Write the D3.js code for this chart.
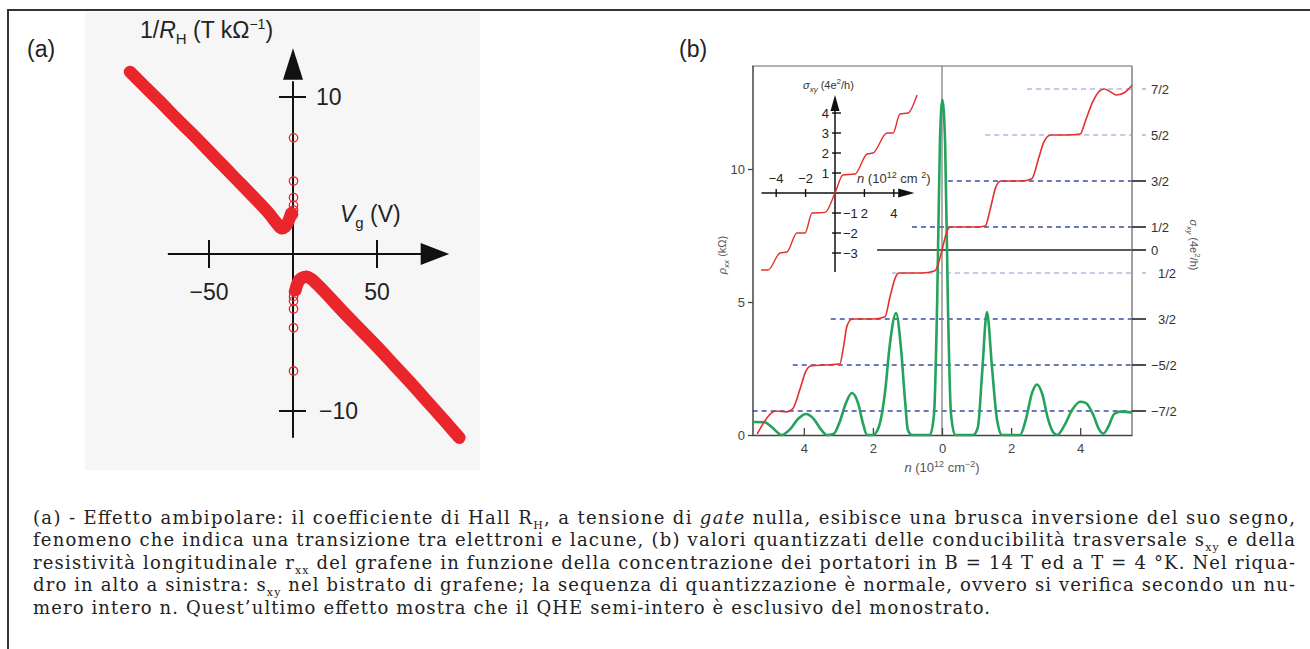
<!DOCTYPE html>
<html>
<head>
<meta charset="utf-8">
<script src="https://cdn.jsdelivr.net/npm/d3@7"></script>
<style>
body{margin:0;background:#fff;}
svg{display:block;}
</style>
</head>
<body>
<div id="fig"></div>
<script>
// ---- panel (a) data: 1/RH vs gate voltage ----
var aLeftV=[-97,-90,-80,-70,-60,-50,-40,-30,-20,-14,-10,-7,-4.5,-2.5,-1];
var aLeftR=[11.6,10.85,9.8,8.7,7.65,6.55,5.45,4.35,3.25,2.55,2.0,1.65,1.75,2.15,2.6];
var aRightV=[1.5,3,5,8,11,15,20,30,40,50,60,70,80,90,99];
var aRightR=[-2.3,-1.8,-1.55,-1.45,-1.6,-2.0,-2.55,-3.7,-4.8,-5.9,-7.05,-8.2,-9.4,-10.6,-11.7];
var aOpenR=[7.4,4.65,3.6,3.1,2.8,2.5,-2.4,-2.7,-3.0,-3.5,-4.7,-7.45];
var aXTicks=[-50,50];
var aYTicks=[10,-10];

// ---- panel (b) data ----
// rho_xx (kOhm) vs n
var rhoN=[-5.48,-5.13,-4.93,-4.64,-4.41,-4.17,-3.94,-3.71,-3.5,-3.33,-3.13,-2.96,-2.78,-2.61,-2.43,-2.29,-2.17,-2.0,-1.83,-1.65,-1.51,-1.33,-1.19,-1.07,-0.99,-0.87,-0.35,-0.23,-0.14,-0.06,0.01,0.09,0.17,0.26,0.38,0.9,1.04,1.16,1.3,1.45,1.59,1.74,2.26,2.43,2.61,2.75,2.9,3.07,3.22,3.33,3.54,3.77,4.0,4.17,4.38,4.55,4.67,4.81,4.99,5.16,5.5];
var rhoV=[0.49,0.48,0.3,0.0,0.2,0.6,0.79,0.6,0.2,0.0,0.05,0.5,1.2,1.58,1.2,0.45,0.0,0.0,0.3,1.6,3.4,4.58,3.3,1.3,0.2,0.0,0.0,0.8,5,11,12.6,11,5,0.8,0.0,0.0,0.3,2.3,4.62,2.5,0.6,0.0,0.0,0.6,1.6,1.9,1.55,0.6,0.1,0.0,0.35,0.95,1.25,1.2,0.75,0.2,0.05,0.3,0.8,0.88,0.85];
// sigma_xy (4e^2/h) vs n, monolayer
var sigN=[-5.35,-5.2,-4.95,-4.8,-4.5,-4.32,-4.1,-3.95,-3.8,-3.4,-2.96,-2.85,-2.75,-2.6,-2.0,-1.65,-1.5,-1.35,-1.25,-0.6,-0.2,-0.05,0.05,0.15,0.25,1.0,1.25,1.4,1.55,1.7,2.3,2.6,2.8,2.95,3.15,3.6,4.0,4.15,4.35,4.55,4.7,4.85,5.05,5.3,5.5];
var sigV=[-4.0,-3.8,-3.55,-3.5,-3.52,-3.45,-3.0,-2.65,-2.52,-2.5,-2.48,-2.1,-1.65,-1.5,-1.5,-1.45,-1.0,-0.6,-0.5,-0.5,-0.45,-0.15,0.15,0.42,0.5,0.5,0.52,0.9,1.35,1.5,1.5,1.55,2.0,2.35,2.5,2.5,2.52,2.8,3.2,3.45,3.5,3.45,3.37,3.43,3.58];
// inset: bilayer sigma_xy vs n
var insN=[-5.03,-4.56,-3.74,-3.27,-2.59,-2.04,-1.56,-0.68,0,0.54,1.36,2.18,2.59,3.54,3.95,4.42,4.97,5.58];
var insV=[-3.85,-3.85,-3.0,-2.95,-2.0,-2.0,-1.0,-0.97,0,0.9,0.95,1.95,2.0,3.0,3.0,3.95,4.0,4.9];

var bXTicks=[-4,-2,0,2,4];
var bRhoTicks=[0,5,10];
var bSigLevels=[3.5,2.5,1.5,0.5,0,-0.5,-1.5,-2.5,-3.5];
var bSigLabels=["7/2","5/2","3/2","1/2","0","1/2","3/2","\u22125/2","\u22127/2"];
var bLevelStart=[2.46,1.25,0.17,-0.87,-1.88,-1.45,-3.22,-4.32,-5.48];
var bLevelFaint=[true,true,false,false,false,true,false,false,false];
var insXTicks=[-4,-2,2,4];
var insYTicks=[4,3,2,1,-1,-2,-3];

var W=1310,H=649;
var svg=d3.select("#fig").append("svg").attr("width",W).attr("height",H);

//Outer frame
svg.append("path")
   .attr("d","M8,649 L8,10 L1310,10")
   .attr("fill","none").attr("stroke","#333").attr("stroke-width",2);

// ================= PANEL (a) =================
svg.append("rect").attr("x",85).attr("y",12).attr("width",395).attr("height",458).attr("fill","#f6f6f6");

var aX=d3.scaleLinear().domain([-50,50]).range([209,377]);
var aY=d3.scaleLinear().domain([-10,10]).range([411,97]);
var ga=svg.append("g").attr("font-family","'Liberation Sans',Arial,sans-serif").attr("fill","#222");

var x0=aX(0),y0=aY(0);
//axes
ga.append("line").attr("x1",aX(-74.5)).attr("x2",aX(78)).attr("y1",y0).attr("y2",y0).attr("stroke","#111").attr("stroke-width",2);
ga.append("line").attr("x1",x0).attr("x2",x0).attr("y1",aY(-11.7)).attr("y2",aY(11)).attr("stroke","#111").attr("stroke-width",2);
ga.append("path").attr("d","M"+aX(93)+","+y0+" L"+aX(76)+","+(y0-11)+" L"+aX(76)+","+(y0+11)+" Z").attr("fill","#111");
ga.append("path").attr("d","M"+x0+","+aY(13.1)+" L"+(x0-10)+","+aY(11.1)+" L"+(x0+10)+","+aY(11.1)+" Z").attr("fill","#111");

ga.selectAll(".xt").data(aXTicks).enter().append("line")
  .attr("x1",d=>aX(d)).attr("x2",d=>aX(d)).attr("y1",y0-14).attr("y2",y0+14)
  .attr("stroke","#111").attr("stroke-width",2);
ga.selectAll(".xtl").data(aXTicks).enter().append("text")
  .attr("x",d=>aX(d)).attr("y",y0+46).attr("text-anchor","middle").attr("font-size",23)
  .text(d=>d<0?"\u2212"+Math.abs(d):d);
ga.selectAll(".yt").data(aYTicks).enter().append("line")
  .attr("x1",x0-14).attr("x2",x0+13).attr("y1",d=>aY(d)).attr("y2",d=>aY(d))
  .attr("stroke","#111").attr("stroke-width",2);
ga.selectAll(".ytl").data(aYTicks).enter().append("text")
  .attr("x",d=>d<0?x0+26:x0+23).attr("y",d=>aY(d)+8).attr("font-size",23)
  .text(d=>d<0?"\u2212"+Math.abs(d):d);

//axis labels
var lab=ga.append("text").attr("x",140).attr("y",38).attr("font-size",23);
lab.append("tspan").text("1/");
lab.append("tspan").attr("font-style","italic").text("R");
lab.append("tspan").attr("font-size",15).attr("dy",6).text("H");
lab.append("tspan").attr("dy",-6).text(" (T k\u03A9");
lab.append("tspan").attr("font-size",14).attr("dy",-9).text("\u22121");
lab.append("tspan").attr("dy",9).text(")");
var lab2=ga.append("text").attr("x",340).attr("y",222).attr("font-size",23);
lab2.append("tspan").attr("font-style","italic").text("V");
lab2.append("tspan").attr("font-size",15).attr("dy",6).text("g");
lab2.append("tspan").attr("dy",-6).text(" (V)");
svg.append("text").attr("x",27).attr("y",57).attr("font-size",23)
   .attr("font-family","'Liberation Sans',Arial,sans-serif").attr("fill","#222").text("(a)");

//data curves
var aLine=d3.line().x(d=>aX(d[0])).y(d=>aY(d[1])).curve(d3.curveCatmullRom);
[[aLeftV,aLeftR],[aRightV,aRightR]].forEach(function(s){
  ga.append("path").datum(d3.zip(s[0],s[1])).attr("d",aLine)
    .attr("fill","none").attr("stroke","#e8262b").attr("stroke-width",12.5)
    .attr("stroke-linecap","round").attr("stroke-linejoin","round");
});
ga.selectAll(".oc").data(aOpenR).enter().append("circle")
  .attr("cx",x0+0.5).attr("cy",d=>aY(d)).attr("r",4.2)
  .attr("fill","none").attr("stroke","#e8262b").attr("stroke-width",1.3);

// ================= PANEL (b) =================
var bX=d3.scaleLinear().domain([-5.5,5.5]).range([752,1132]);
var bRho=d3.scaleLinear().domain([0,10]).range([435,169]);
var bSig=d3.scaleLinear().domain([-3.5,3.5]).range([411,89]);
var gb=svg.append("g").attr("font-family","'Liberation Sans',Arial,sans-serif").attr("fill","#333");

svg.append("text").attr("x",679).attr("y",57).attr("font-size",23)
   .attr("font-family","'Liberation Sans',Arial,sans-serif").attr("fill","#222").text("(b)");

//level lines
gb.selectAll(".lvl").data(bSigLevels).enter().append("line")
  .attr("x1",(d,i)=>bX(bLevelStart[i])).attr("x2",bX(5.5))
  .attr("y1",d=>bSig(d)).attr("y2",d=>bSig(d))
  .attr("stroke",(d,i)=>d===0?"#222":(bLevelFaint[i]?"#b4b9dc":"#3d4ea6"))
  .attr("stroke-width",d=>d===0?1.6:1.4)
  .attr("stroke-dasharray",d=>d===0?null:"5,4");

//frame
gb.append("line").attr("x1",bX(-5.5)).attr("x2",bX(5.5)).attr("y1",66).attr("y2",66).attr("stroke","#999").attr("stroke-width",1.3);
gb.append("line").attr("x1",bX(5.5)).attr("x2",bX(5.5)).attr("y1",66).attr("y2",435).attr("stroke","#888").attr("stroke-width",1.6);
gb.append("line").attr("x1",bX(0)).attr("x2",bX(0)).attr("y1",66).attr("y2",435).attr("stroke","#777").attr("stroke-width",1.2);

var bottomAxis=d3.axisBottom(bX).tickValues(bXTicks).tickSizeInner(-7).tickSizeOuter(0).tickPadding(9)
  .tickFormat(d=>Math.abs(d));
var gxb=gb.append("g").attr("transform","translate(0,435)").call(bottomAxis);
var leftAxis=d3.axisLeft(bRho).tickValues(bRhoTicks).tickSizeInner(5).tickSizeOuter(0).tickPadding(3);
var gyb=gb.append("g").attr("transform","translate(753,0)").call(leftAxis);
gyb.select(".domain").attr("d","M0,66V435");
[gxb,gyb].forEach(function(g){
  g.select(".domain").attr("stroke","#444").attr("stroke-width",1.5);
  g.selectAll(".tick line").attr("stroke","#444").attr("stroke-width",1.3);
  g.selectAll(".tick text").attr("font-size",13).attr("fill","#444")
   .attr("font-family","'Liberation Sans',Arial,sans-serif");
});

//right axis ticks
gb.selectAll(".rt").data(bSigLevels).enter().append("line")
  .attr("x1",(d,i)=>bLevelFaint[i]?1142:1132).attr("x2",1146)
  .attr("y1",d=>bSig(d)).attr("y2",d=>bSig(d))
  .attr("stroke",(d,i)=>bLevelFaint[i]?"#bbb":"#222").attr("stroke-width",1.6);
gb.selectAll(".rtl").data(bSigLevels).enter().append("text")
  .attr("x",(d,i)=>(i===5||i===6)?1158:1151).attr("y",d=>bSig(d)+5)
  .attr("font-size",13).attr("fill","#333").text((d,i)=>bSigLabels[i]);

//axis titles
var ry=gb.append("text").attr("transform","translate(726,255) rotate(-90)")
  .attr("text-anchor","middle").attr("font-size",11).attr("fill","#555");
ry.append("tspan").attr("font-style","italic").text("\u03C1");
ry.append("tspan").attr("font-size",8).attr("dy",3).attr("font-style","italic").text("xx");
ry.append("tspan").attr("dy",-3).text(" (k\u03A9)");
var rs=gb.append("text").attr("transform","translate(1190,245) rotate(90)")
  .attr("text-anchor","middle").attr("font-size",11).attr("fill","#555");
rs.append("tspan").attr("font-style","italic").text("\u03C3");
rs.append("tspan").attr("font-size",8).attr("dy",3).attr("font-style","italic").text("xy");
rs.append("tspan").attr("dy",-3).text(" (4e");
rs.append("tspan").attr("font-size",8).attr("dy",-5).text("2");
rs.append("tspan").attr("dy",5).text("/h)");
var nx=gb.append("text").attr("x",bX(0)).attr("y",472).attr("text-anchor","middle").attr("font-size",13).attr("fill","#555");
nx.append("tspan").attr("font-style","italic").text("n");
nx.append("tspan").text(" (10");
nx.append("tspan").attr("font-size",9).attr("dy",-5).text("12");
nx.append("tspan").attr("dy",5).text(" cm");
nx.append("tspan").attr("font-size",9).attr("dy",-5).text("\u22122");
nx.append("tspan").attr("dy",5).text(")");

//curves
var rhoLine=d3.line().x(d=>bX(d[0])).y(d=>bRho(d[1])).curve(d3.curveMonotoneX);
gb.append("path").datum(d3.zip(rhoN,rhoV)).attr("d",rhoLine)
  .attr("fill","none").attr("stroke","#23a35c").attr("stroke-width",2.6).attr("stroke-linejoin","round");
var sigLine=d3.line().x(d=>bX(d[0])).y(d=>bSig(d[1])).curve(d3.curveMonotoneX);
gb.append("path").datum(d3.zip(sigN,sigV)).attr("d",sigLine)
  .attr("fill","none").attr("stroke","#e3302d").attr("stroke-width",1.6);

// ---- inset ----
var iX=d3.scaleLinear().domain([-4,4]).range([776.2,893.8]);
var iY=d3.scaleLinear().domain([-3,3]).range([253,133]);
var gi=svg.append("g").attr("font-family","'Liberation Sans',Arial,sans-serif").attr("fill","#222");
var ix0=iX(0),iy0=iY(0);
gi.append("line").attr("x1",iX(-5.0)).attr("x2",iX(4.6)).attr("y1",iy0).attr("y2",iy0).attr("stroke","#111").attr("stroke-width",1.5);
gi.append("line").attr("x1",ix0).attr("x2",ix0).attr("y1",iY(-3.95)).attr("y2",iY(4.2)).attr("stroke","#111").attr("stroke-width",1.5);
gi.append("path").attr("d","M"+iX(5.4)+","+iy0+" L"+iX(4.3)+","+(iy0-4.5)+" L"+iX(4.3)+","+(iy0+4.5)+" Z").attr("fill","#111");
gi.append("path").attr("d","M"+ix0+","+iY(4.9)+" L"+(ix0-4.5)+","+iY(4.1)+" L"+(ix0+4.5)+","+iY(4.1)+" Z").attr("fill","#111");
gi.selectAll(".ixt").data(insXTicks).enter().append("line")
  .attr("x1",d=>iX(d)).attr("x2",d=>iX(d)).attr("y1",iy0-4).attr("y2",iy0+4).attr("stroke","#111").attr("stroke-width",1.4);
gi.selectAll(".ixl").data(insXTicks).enter().append("text")
  .attr("x",d=>iX(d)).attr("y",d=>d<0?iy0-10:iy0+25).attr("text-anchor","middle").attr("font-size",13)
  .text(d=>d<0?"\u2212"+Math.abs(d):d);
gi.selectAll(".iyt").data(insYTicks).enter().append("line")
  .attr("x1",ix0-3).attr("x2",ix0+6).attr("y1",d=>iY(d)).attr("y2",d=>iY(d)).attr("stroke","#111").attr("stroke-width",1.4);
gi.selectAll(".iyl").data(insYTicks).enter().append("text")
  .attr("x",d=>d<0?ix0+8:ix0-6).attr("y",d=>iY(d)+5).attr("text-anchor",d=>d<0?"start":"end").attr("font-size",13)
  .text(d=>d<0?"\u2212"+Math.abs(d):d);
var il=gi.append("text").attr("x",803).attr("y",89).attr("font-size",11).attr("fill","#333");
il.append("tspan").attr("font-style","italic").text("\u03C3");
il.append("tspan").attr("font-size",8).attr("dy",3).attr("font-style","italic").text("xy");
il.append("tspan").attr("dy",-3).text(" (4e");
il.append("tspan").attr("font-size",8).attr("dy",-5).text("2");
il.append("tspan").attr("dy",5).text("/h)");
var inl=gi.append("text").attr("x",857).attr("y",183).attr("font-size",13).attr("fill","#333");
inl.append("tspan").attr("font-style","italic").text("n");
inl.append("tspan").text(" (10");
inl.append("tspan").attr("font-size",9).attr("dy",-5).text("12");
inl.append("tspan").attr("dy",5).text(" cm ");
inl.append("tspan").attr("font-size",9).attr("dy",-5).text("2");
inl.append("tspan").attr("dy",5).text(")");
var insLine=d3.line().x(d=>iX(d[0])).y(d=>iY(d[1])).curve(d3.curveMonotoneX);
gi.append("path").datum(d3.zip(insN,insV)).attr("d",insLine)
  .attr("fill","none").attr("stroke","#e3302d").attr("stroke-width",1.4);

// ================= CAPTION =================
var capLines=[
  [["(a) - Effetto ambipolare: il coefficiente di Hall R"],["H","sub"],[", a tensione di "],["gate","it"],[" nulla, esibisce una brusca inversione del suo segno,"]],
  [["fenomeno che indica una transizione tra elettroni e lacune, (b) valori quantizzati delle conducibilit\u00E0 trasversale s"],["xy","sub"],[" e della"]],
  [["resistivit\u00E0 longitudinale r"],["xx","sub"],[" del grafene in funzione della concentrazione dei portatori in B = 14 T ed a T = 4 \u00B0K. Nel riqua-"]],
  [["dro in alto a sinistra: s"],["xy","sub"],[" nel bistrato di grafene; la sequenza di quantizzazione \u00E8 normale, ovvero si verifica secondo un nu-"]],
  [["mero intero n. Quest\u2019ultimo effetto mostra che il QHE semi-intero \u00E8 esclusivo del monostrato."]]
];
var capWidth=[1262,1262,1262,1262,957];
var gc=svg.append("g").attr("font-family","'DejaVu Serif','Liberation Serif',serif").attr("fill","#222");
capLines.forEach(function(parts,i){
  var t=gc.append("text").attr("x",33).attr("y",524+i*22.4).attr("font-size",18)
    .attr("textLength",capWidth[i]).attr("lengthAdjust","spacing");
  var shifted=false;
  parts.forEach(function(p){
    var ts=t.append("tspan").text(p[0]);
    if(p[1]==="sub"){ts.attr("font-size",11).attr("dy",5);shifted=true;}
    else if(shifted){ts.attr("dy",-5);shifted=false;}
    if(p[1]==="it"){ts.attr("font-style","italic");}
  });
});
</script>
</body>
</html>
